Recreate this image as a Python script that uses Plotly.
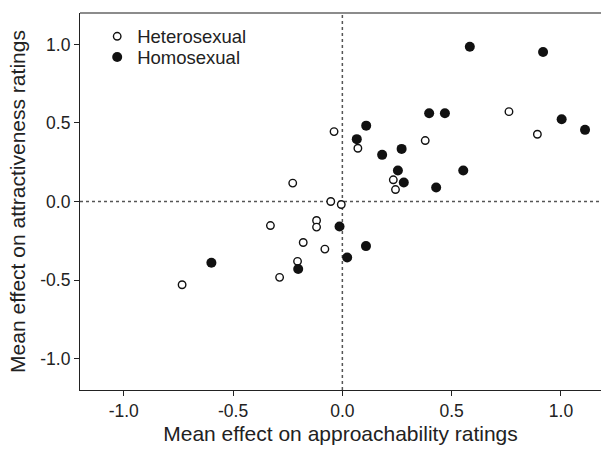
import plotly.graph_objects as go

# Heterosexual (open circles)
hetero_x = [0.762, 0.892, 0.379, -0.038, 0.071, 0.233, 0.243, -0.053, -0.005,
            -0.118, -0.118, -0.227, -0.329, -0.179, -0.205, -0.287, -0.733, -0.080]
hetero_y = [0.572, 0.428, 0.388, 0.445, 0.339, 0.138, 0.076, 0.000, -0.019,
            -0.121, -0.163, 0.117, -0.153, -0.261, -0.381, -0.483, -0.530, -0.303]

# Homosexual (filled circles)
homo_x = [0.583, 0.918, 0.397, 0.469, 1.003, 1.110, 0.109, 0.066, 0.271, 0.182,
          0.254, 0.281, 0.553, 0.429, -0.013, -0.202, -0.599, 0.022, 0.108]
homo_y = [0.985, 0.952, 0.562, 0.562, 0.524, 0.456, 0.483, 0.397, 0.335, 0.297,
          0.197, 0.121, 0.197, 0.089, -0.159, -0.430, -0.390, -0.356, -0.284]

tick_vals = [-1.0, -0.5, 0.0, 0.5, 1.0]
tick_text = ["-1.0", "-0.5", "0.0", "0.5", "1.0"]

FONT = "Liberation Sans, Arial, sans-serif"

fig = go.Figure()
fig.add_trace(go.Scatter(
    x=hetero_x, y=hetero_y, mode="markers", name="Heterosexual", legend="legend",
    marker=dict(symbol="circle", size=7.5, color="white",
                line=dict(color="#111111", width=1.4)),
))
fig.add_trace(go.Scatter(
    x=homo_x, y=homo_y, mode="markers", name="Homosexual", legend="legend2",
    marker=dict(symbol="circle", size=10, color="#111111",
                line=dict(color="#111111", width=0)),
))

# dotted zero reference lines
fig.add_shape(type="line", xref="x", yref="paper", x0=0, x1=0, y0=0, y1=1,
              line=dict(color="#555555", width=1.5, dash="dot"), layer="below")
fig.add_shape(type="line", xref="paper", yref="y", x0=0, x1=1, y0=0, y1=0,
              line=dict(color="#555555", width=1.5, dash="dot"), layer="below")
# top border (gray)
fig.add_shape(type="line", xref="paper", yref="paper", x0=0, x1=1, y0=1, y1=1,
              line=dict(color="#666666", width=1.5))

legend_common = dict(xanchor="left", yanchor="middle", bgcolor="rgba(0,0,0,0)",
                     font=dict(size=18.5, color="#222222"), itemsizing="trace")

fig.update_layout(
    width=601, height=453,
    margin=dict(l=80, r=0, t=13, b=63),
    paper_bgcolor="white", plot_bgcolor="white",
    font=dict(family=FONT, color="#222222", size=17),
    showlegend=True,
    legend=dict(x=0.033, y=0.937, **legend_common),
    legend2=dict(x=0.033, y=0.882, **legend_common),
    xaxis=dict(range=[-1.2, 1.183], tickvals=tick_vals, ticktext=tick_text,
               showgrid=False, zeroline=False, showline=True,
               linecolor="#222222", linewidth=1.2, ticks="outside",
               ticklen=5, tickcolor="#222222", tickfont=dict(size=17.5),
               title=dict(text="Mean effect on approachability ratings",
                          font=dict(size=21, color="#222222"), standoff=6)),
    yaxis=dict(range=[-1.2, 1.2], tickvals=tick_vals, ticktext=tick_text,
               showgrid=False, zeroline=False, showline=True,
               linecolor="#222222", linewidth=1.2, ticks="outside",
               ticklen=5, tickcolor="#222222", tickfont=dict(size=17.5),
               title=dict(text="Mean effect on attractiveness ratings",
                          font=dict(size=21, color="#222222"), standoff=8)),
)

fig.write_html("out.html")
